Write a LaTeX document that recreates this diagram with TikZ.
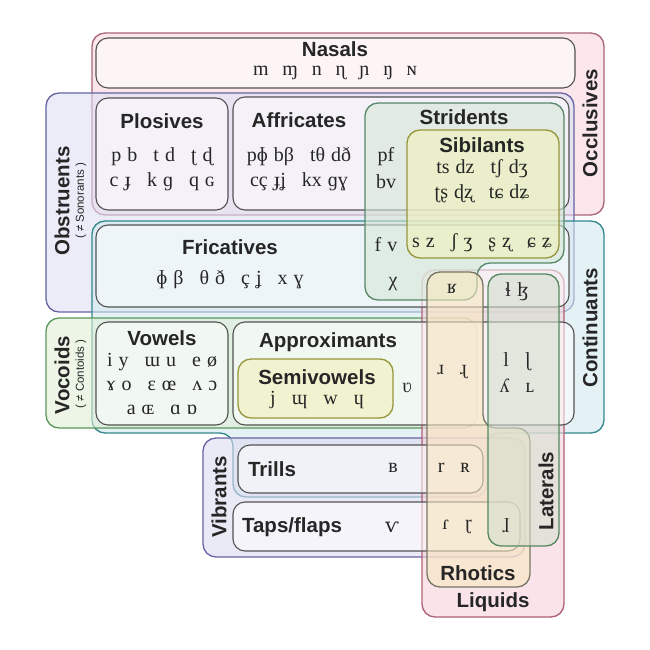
\documentclass[tikz,border=0pt]{standalone}
\usepackage{fontspec}
\setmainfont{Liberation Serif}
\newfontfamily\lab{Liberation Sans}
\newfontfamily\ipafb{DejaVu Serif}
\newcommand{\xs}{\hspace{0.3em}}
\newcommand{\xl}{\hspace{0.8em}}
\definecolor{occB}{RGB}{170,100,118}
\definecolor{occF}{HTML}{F8D5DE}
\definecolor{obsB}{RGB}{100,100,160}
\definecolor{obsF}{HTML}{DEDFF3}
\definecolor{conB}{RGB}{50,135,140}
\definecolor{conF}{HTML}{D2E9F0}
\definecolor{vocB}{RGB}{90,150,90}
\definecolor{vocF}{HTML}{DFEED5}
\definecolor{vibB}{RGB}{105,100,165}
\definecolor{vibF}{HTML}{DCDAF0}
\definecolor{liqB}{RGB}{175,95,115}
\definecolor{liqF}{HTML}{F7D2DC}
\definecolor{rhoB}{RGB}{120,118,100}
\definecolor{rhoF}{HTML}{F7E8C1}
\definecolor{latB}{RGB}{85,135,95}
\definecolor{latF}{HTML}{D5DFCF}
\definecolor{strB}{RGB}{85,135,105}
\definecolor{strF}{HTML}{D5E6D5}
\definecolor{sibB}{RGB}{150,150,60}
\definecolor{sibF}{HTML}{F2F2BC}
\tikzset{
  grp/.style={line width=1.3pt, rounded corners=13pt, fill opacity=0.6},
  inbox/.style={draw=black!68, line width=1.1pt, rounded corners=12pt, fill=white, fill opacity=0.55},
  ttl/.style={font=\lab\bfseries\fontsize{20.5}{24}\selectfont, inner sep=0pt, text=black!85},
  ipa/.style={font=\fontsize{20}{24}\selectfont, inner sep=0pt, text=black!85},
  sml/.style={font=\lab\fontsize{11.5}{13}\selectfont, inner sep=0pt, text=black!85},
}
\begin{document}
\begin{tikzpicture}[x=1pt,y=-1pt]
\useasboundingbox (0,0) rectangle (650,650);
% outer groups
\draw[grp, draw=occB, fill=occF] (92,33) rectangle (604,215);
\draw[grp, draw=obsB, fill=obsF] (46,93) rectangle (574,312);
\draw[grp, draw=conB, fill=conF] (92,221) -- (604,221) -- (604,433) -- (487,433) -- (487,497) -- (233,497) -- (233,433) -- (92,433) -- cycle;
\draw[grp, draw=vocB, fill=vocF] (46,318) rectangle (477,428);
\draw[grp, draw=vibB, fill=vibF] (203,438) rectangle (525,557);
\draw[grp, draw=liqB, fill=liqF] (422,270) rectangle (564,617);
% manner boxes
\draw[inbox] (96,38) rectangle (575,88);
\draw[inbox] (96,98) rectangle (228,210);
\draw[inbox] (233,97) rectangle (569,210);
\draw[inbox] (96,225) rectangle (569,307);
\draw[inbox] (96,322) rectangle (228,425);
\draw[inbox] (233,322) rectangle (574,425);
\draw[inbox] (238,445) rectangle (483,493);
\draw[inbox] (233,502) rectangle (520,551);
% overlapping sets
\draw[grp, draw=strB, fill=strF] (365,103) -- (564,103) -- (564,263) -- (477,263) -- (477,300) -- (365,300) -- cycle;
\draw[grp, draw=sibB, fill=sibF] (407,130) rectangle (559,258);
\draw[grp, draw=sibB, fill=sibF] (238,359) rectangle (393,418);
\draw[grp, draw=rhoB, fill=rhoF] (427,272) -- (483,272) -- (483,428) -- (530,428) -- (530,587) -- (427,587) -- cycle;
\draw[grp, draw=latB, fill=latF] (488,274) rectangle (559,546);
% labels
\node[ttl, rotate=90] (occ) at (590,123) {Occlusives};
\node[ttl, rotate=90] (obs) at (62,201) {Obstruents};
\node[sml, rotate=90] (son) at (81,201) {( ≠ Sonorants )};
\node[ttl, rotate=90] (con) at (590,328) {Continuants};
\node[ttl, rotate=90] (voc) at (62,375) {Vocoids};
\node[sml, rotate=90] (cnt) at (81,374) {( ≠ Contoids )};
\node[ttl, rotate=90] (vib) at (219,497) {Vibrants};
\node[ttl, rotate=90] (lat) at (546,491) {Laterals};
\node[ttl] (rho) at (478,573) {Rhotics};
\node[ttl] (liq) at (493,602) {Liquids};
% Nasals
\node[ttl] (nas) at (335,49) {Nasals};
\node[ipa] (nasi) at (335,73) {m\hspace{0.69em}ɱ\hspace{0.69em}n\hspace{0.69em}ɳ\hspace{0.69em}ɲ\hspace{0.69em}ŋ\hspace{0.69em}ɴ};
% Plosives
\node[ttl] (plo) at (162,121) {Plosives};
\node[ipa] (plo1) at (162,157) {p\xs b\xl t\xs d\xl ʈ\xs ɖ};
\node[ipa] (plo2) at (162,182) {c\xs ɟ\xl k\xs ɡ\xl q\xs ɢ};
% Affricates
\node[ttl] (aff) at (299,120) {Affricates};
\node[ipa] (aff1) at (299,157) {pɸ\xs bβ\xl tθ\xs dð};
\node[ipa] (aff2) at (299,182) {cç\xs ɟʝ\xl kx\xs ɡɣ};
% Stridents / Sibilants
\node[ttl] (str) at (464,117) {Stridents};
\node[ipa] (pf) at (386,157) {pf};
\node[ipa] (bv) at (386,182) {bv};
\node[ttl] (sib) at (482,145) {Sibilants};
\node[ipa] (sib1) at (482,169) {ts\xs dz\xl tʃ\xs dʒ};
\node[ipa] (sib2) at (482,194) {ʈʂ\xs ɖʐ\xl tɕ\xs dʑ};
% Fricatives
\node[ttl] (fri) at (230,247) {Fricatives};
\node[ipa] (fri1) at (230,280) {ɸ\xs β\xl θ\xs ð\xl ç\xs ʝ\xl x\xs ɣ};
\node[ipa] (fv) at (386,245) {f\xs v};
\node[ipa] (sfr) at (482,243) {s\xs z\xl ʃ\xs ʒ\xl ʂ\xs ʐ\xl ɕ\xs ʑ};
\node[ipa] (chi) at (393,284) {χ};
\node[ipa] (uvr) at (452,289) {ʁ};
\node[ipa] (lfr) at (517,292) {ɬ\xs ɮ};
% Vowels
\node[ttl] (vow) at (162,338) {Vowels};
\node[ipa] (vow1) at (162,362) {i\xs y\xl ɯ\xs u\xl e\xs ø};
\node[ipa] (vow2) at (162,386) {ɤ\xs o\xl ɛ\xs œ\xl ʌ\xs ɔ};
\node[ipa] (vow3) at (162,410) {a\xs ɶ\xl ɑ\xs ɒ};
% Approximants
\node[ttl] (app) at (328,342) {Approximants};
\node[ttl] (sem) at (317,377) {Semivowels};
\node[ipa] (sem1) at (317,400) {j\xl ɰ\xl w\xl ɥ};
\node[ipa] (lab) at (407,388) {ʋ};
\node[ipa] (rap) at (452,372) {ɹ\xl ɻ};
\node[ipa] (lap1) at (517,362) {l\xl ɭ};
\node[ipa] (lap2) at (517,386) {ʎ\xl ʟ};
% Trills and taps
\node[ttl] (tri) at (272,469) {Trills};
\node[ipa] (bil) at (393,468) {ʙ};
\node[ipa] (rtr) at (454,468) {r\xl ʀ};
\node[ttl] (tap) at (292,527) {Taps/flaps};
\node[ipa] (lbt) at (392,527) {{\ipafb ⱱ}};
\node[ipa] (rtp) at (457,527) {ɾ\xl ɽ};
\node[ipa] (ltp) at (506,526) {ɺ};
\end{tikzpicture}
\end{document}
